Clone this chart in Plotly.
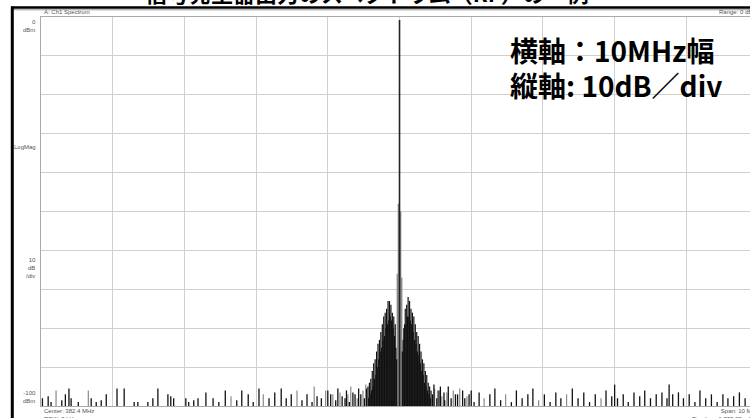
import plotly.graph_objects as go

# ---------------- data (frequency offset from center in MHz, level in dBm) ----------------
carrier_freq = [0.0]
carrier_level = [-0.8]

side_freq = [-0.03, -0.015, 0.015, 0.03]
side_level = [-66, -48, -50, -67]

skirt_freq = [-0.44, -0.43, -0.42, -0.41, -0.40, -0.39, -0.38, -0.37, -0.36, -0.35,
              -0.34, -0.33, -0.32, -0.31, -0.30, -0.29, -0.28, -0.27, -0.26, -0.25,
              -0.24, -0.23, -0.22, -0.21, -0.20, -0.19, -0.18, -0.17, -0.16, -0.15,
              -0.14, -0.13, -0.12, -0.11, -0.10, -0.09, -0.08, -0.07, -0.06, -0.05,
              -0.04, 0.04, 0.05, 0.06, 0.07, 0.08, 0.09, 0.10, 0.11, 0.12,
              0.13, 0.14, 0.15, 0.16, 0.17, 0.18, 0.19, 0.20, 0.21, 0.22,
              0.23, 0.24, 0.25, 0.26, 0.27, 0.28, 0.29, 0.30, 0.31, 0.32,
              0.33, 0.34, 0.35, 0.36, 0.37, 0.38, 0.39, 0.40, 0.41, 0.42,
              0.43, 0.44]
skirt_level = [-95, -98, -94, -97, -93, -96, -91, -95, -89, -93,
               -88, -92, -86, -90, -84, -88, -83, -86, -81, -85,
               -79, -83, -77, -82, -76, -80, -75, -79, -73, -78,
               -73, -77, -74, -78, -76, -80, -77, -82, -79, -85,
               -88, -86, -83, -80, -79, -75, -79, -74, -77, -72,
               -77, -73, -78, -75, -79, -76, -81, -77, -83, -79,
               -84, -81, -86, -82, -87, -84, -89, -86, -91, -88,
               -92, -89, -94, -91, -95, -92, -96, -94, -97, -95,
               -98, -96]

noise_freq = [-4.98, -4.90, -4.86, -4.79, -4.71, -4.66, -4.61, -4.58, -4.48, -4.34,
              -4.30, -4.23, -4.16, -4.09, -3.94, -3.84, -3.70, -3.65, -3.51, -3.44,
              -3.37, -3.23, -3.19, -3.15, -2.98, -2.94, -2.87, -2.81, -2.70, -2.60,
              -2.52, -2.43, -2.35, -2.27, -2.20, -2.11, -2.04, -1.96, -1.90, -1.82,
              -1.74, -1.65, -1.58, -1.51, -1.43, -1.36, -1.29, -1.22, -1.19, -1.15,
              -1.09, -1.03, -0.96, -0.89, -0.83, -0.76, -0.72, -0.70, -0.65, -0.59,
              -0.54, -0.51, -0.49, -0.46,
              0.46, 0.49, 0.52, 0.55, 0.59, 0.63, 0.66, 0.72, 0.78, 0.84,
              0.91, 0.97, 1.04, 1.11, 1.18, 1.26, 1.33, 1.41, 1.48, 1.56,
              1.63, 1.71, 1.79, 1.86, 1.94, 2.02, 2.10, 2.18, 2.25, 2.33,
              2.41, 2.49, 2.57, 2.65, 2.73, 2.81, 2.88, 2.96, 3.00, 3.04,
              3.12, 3.19, 3.27, 3.35, 3.42, 3.50, 3.58, 3.66, 3.73, 3.76,
              3.81, 3.89, 3.96, 4.04, 4.12, 4.19, 4.27, 4.35, 4.43, 4.51,
              4.58, 4.66, 4.74, 4.82]
noise_level = [-98, -97.5, -99, -96, -98.5, -97, -95.5, -98, -99, -96,
               -98, -99, -98.5, -97, -95.5, -95.5, -99, -99, -99, -98,
               -95.5, -97, -97.5, -98, -98, -99, -98.5, -98, -96.5, -98,
               -99, -96, -97.5, -98.5, -96, -97, -99, -95.5, -97, -98,
               -96.5, -95.5, -98, -97, -96, -98.5, -97, -99, -95, -97.5,
               -98, -96, -97, -98.5, -96.5, -98, -97, -99, -96.5, -98,
               -97, -96, -98, -95.5,
               -97, -95.5, -98, -96, -97.5, -98.5, -96.5, -98, -97, -95.5,
               -98, -97, -99, -96.5, -98, -97, -95.5, -98.5, -97, -99,
               -96, -98, -97, -95.5, -98.5, -97, -99, -96.5, -98, -97,
               -95.5, -98, -96.5, -99, -97, -98, -96, -97.5, -94.5, -98,
               -97, -99, -96.5, -97.5, -96, -98, -97, -96.5, -98, -94.5,
               -97, -96.5, -98, -97, -99, -96, -98, -97, -99, -97,
               -98, -97.5, -96.5, -98]
noise_shade = ["k", "k", "k", "g", "k", "k", "k", "k", "k", "g",
               "k", "k", "k", "k", "k", "k", "k", "k", "k", "k",
               "k", "k", "k", "k", "k", "k", "k", "k", "k", "k",
               "k", "k", "g", "k", "k", "k", "k", "k", "g", "k",
               "k", "k", "k", "k", "g", "k", "k", "k", "g", "k",
               "k", "g", "k", "k", "g", "k", "g", "k", "k", "g",
               "k", "g", "k", "k",
               "k", "g", "k", "k", "g", "k", "g", "k", "k", "g",
               "k", "k", "k", "k", "g", "k", "k", "k", "g", "k",
               "k", "k", "k", "k", "g", "k", "k", "k", "k", "g",
               "k", "k", "k", "k", "k", "g", "k", "k", "k", "k",
               "k", "k", "k", "k", "k", "k", "k", "k", "k", "k",
               "k", "k", "k", "k", "k", "k", "k", "k", "k", "k",
               "k", "k", "k", "k"]

# extra spurs close to the carrier skirt
near_freq = [-1.00, -0.93, -0.86, -0.80, -0.74, -0.68, -0.62, -0.57, -0.47,
             0.48, 0.53, 0.57, 0.62, 0.68, 0.75, 0.81, 0.88, 0.94, 1.00]
near_level = [-96, -97, -95.5, -97.5, -96, -95, -97, -95.5, -94.5,
              -94.5, -96, -95, -96.5, -95, -96, -97, -96, -97.5, -96]
near_shade = ["k", "g", "k", "k", "k", "g", "k", "k", "g",
              "k", "g", "k", "k", "k", "g", "k", "k", "g", "k"]

FLOOR = -100


def spikes(freqs, levels):
    xs, ys = [], []
    for f, v in zip(freqs, levels):
        xs += [f, f, None]
        ys += [FLOOR, v, None]
    return xs, ys


all_freq = noise_freq + near_freq
all_level = noise_level + near_level
all_shade = noise_shade + near_shade

fig = go.Figure()

gx, gy = spikes([f for f, s in zip(all_freq, all_shade) if s == "g"],
                [v for v, s in zip(all_level, all_shade) if s == "g"])
kx, ky = spikes([f for f, s in zip(all_freq, all_shade) if s == "k"],
                [v for v, s in zip(all_level, all_shade) if s == "k"])
fig.add_trace(go.Scatter(x=gx, y=gy, mode="lines", line=dict(color="#8a8a8a", width=1.2),
                         hoverinfo="skip", showlegend=False))
fig.add_trace(go.Scatter(x=kx, y=ky, mode="lines", line=dict(color="#111111", width=1.3),
                         hoverinfo="skip", showlegend=False))
sx, sy = spikes(side_freq, side_level)
fig.add_trace(go.Scatter(x=sx, y=sy, mode="lines", line=dict(color="#8c8c8c", width=1.5),
                         hoverinfo="skip", showlegend=False))
sk_x, sk_y = spikes(skirt_freq, skirt_level)
fig.add_trace(go.Scatter(x=sk_x, y=sk_y, mode="lines", line=dict(color="#111111", width=1.2),
                         hoverinfo="skip", showlegend=False))
cx, cy = spikes(carrier_freq, carrier_level)
fig.add_trace(go.Scatter(x=cx, y=cy, mode="lines", line=dict(color="#222222", width=1.6),
                         hoverinfo="skip", showlegend=False))

small = dict(family="Liberation Sans, Arial, sans-serif", size=6, color="#555555")
big = dict(family="Noto Sans CJK JP", size=28, color="#000000")

annotations = [
    dict(text="A: Ch1 Spectrum", x=0.002, y=1.0, xanchor="left", yanchor="bottom", font=small),
    dict(text="Range: 0 dBm", x=0.953, y=1.0, xanchor="left", yanchor="bottom", font=small),
    dict(text="0<br>dBm", x=-0.004, y=1.0, xanchor="right", yanchor="top", align="right", font=small),
    dict(text="LogMag", x=-0.004, y=0.667, xanchor="right", yanchor="middle", align="right", font=small),
    dict(text="10<br>dB<br>/div", x=-0.004, y=0.355, xanchor="right", yanchor="middle", align="right", font=small),
    dict(text="-100<br>dBm", x=-0.004, y=0.0, xanchor="right", yanchor="bottom", align="right", font=small),
    dict(text="Center: 382.4 MHz<br>RBW: 3 kHz", x=0.002, y=0.0, xanchor="left", yanchor="top",
         align="left", font=small),
    dict(text="Span: 10 MHz<br>TimeLen: 1.373 28 mSec", x=0.915, y=0.0, xanchor="left", yanchor="top",
         align="right", font=small),
    dict(text="<b>横軸：10MHz幅</b>", x=0.659, y=0.915, xanchor="left", yanchor="middle", font=big),
    dict(text="<b>縦軸: 10dB／div</b>", x=0.659, y=0.826, xanchor="left", yanchor="middle", font=big),
    dict(text="<b>信号発生器出力のスペクトラム（RF）の一例</b>", x=0.46, y=1.065, xanchor="center",
         yanchor="middle", font=dict(family="Noto Sans CJK JP", size=22, color="#000")),
]
for a in annotations:
    a.update(xref="paper", yref="paper", showarrow=False)

shapes = [
    dict(type="line", xref="paper", yref="paper", x0=-0.042, x1=1.05, y0=1.0245, y1=1.0245,
         line=dict(color="#000", width=2.5)),
    dict(type="line", xref="paper", yref="paper", x0=-0.042, x1=1.05, y0=1.0185, y1=1.0185,
         line=dict(color="#999", width=1)),
    dict(type="line", xref="paper", yref="paper", x0=-0.0405, x1=-0.0405, y0=1.027, y1=-0.05,
         line=dict(color="#000", width=3)),
]

fig.update_layout(
    width=750, height=418,
    margin=dict(l=41, r=0, t=17, b=12),
    paper_bgcolor="white", plot_bgcolor="white",
    annotations=annotations, shapes=shapes,
    showlegend=False,
    xaxis=dict(range=[-5, 4.888], tick0=-5, dtick=1, showticklabels=False, ticks="",
               showgrid=True, gridcolor="#cfcfcf", gridwidth=1, zeroline=False,
               showline=True, linecolor="#aaaaaa", linewidth=1, mirror=True),
    yaxis=dict(range=[-100, 0], tick0=-100, dtick=10, showticklabels=False, ticks="",
               showgrid=True, gridcolor="#cfcfcf", gridwidth=1, zeroline=False,
               showline=True, linecolor="#aaaaaa", linewidth=1, mirror=True),
)

fig.write_html("out.html", config={"displayModeBar": False},
               post_script="document.body.style.margin='0';document.body.style.overflow='hidden';")
